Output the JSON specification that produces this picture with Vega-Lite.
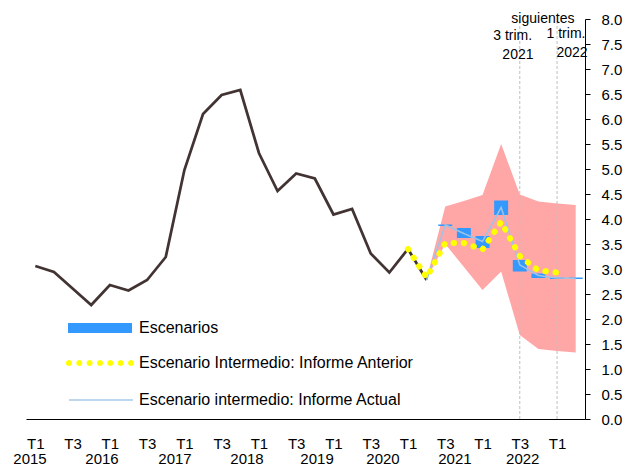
{
  "$schema": "https://vega.github.io/schema/vega-lite/v6.json",
  "width": 559,
  "height": 400,
  "autosize": {"type": "none"},
  "padding": {"left": 26, "top": 19, "right": 40, "bottom": 45},
  "background": "white",
  "config": {
    "view": {"stroke": null},
    "font": "Liberation Sans",
    "axis": {"labelFont": "Liberation Sans", "labelColor": "#000000", "grid": false, "title": null},
    "legend": {"labelFont": "Liberation Sans", "labelFontSize": 16, "labelColor": "#000000", "padding": 0, "labelOffset": 7, "labelLimit": 500}
  },
  "datasets": {
    "historico": [
      {"t": 2015, "v": 3.06}, {"t": 2015.25, "v": 2.94}, {"t": 2015.5, "v": 2.61}, {"t": 2015.75, "v": 2.28},
      {"t": 2016, "v": 2.68}, {"t": 2016.25, "v": 2.57}, {"t": 2016.5, "v": 2.78}, {"t": 2016.75, "v": 3.24},
      {"t": 2017, "v": 4.98}, {"t": 2017.25, "v": 6.10}, {"t": 2017.5, "v": 6.48}, {"t": 2017.75, "v": 6.58},
      {"t": 2018, "v": 5.32}, {"t": 2018.25, "v": 4.56}, {"t": 2018.5, "v": 4.91}, {"t": 2018.75, "v": 4.81},
      {"t": 2019, "v": 4.09}, {"t": 2019.25, "v": 4.20}, {"t": 2019.5, "v": 3.31}, {"t": 2019.75, "v": 2.93},
      {"t": 2020, "v": 3.40}, {"t": 2020.25, "v": 2.78}
    ],
    "fan": [
      {"t": 2020.25, "lo": 2.80, "hi": 2.80},
      {"t": 2020.5, "lo": 3.50, "hi": 4.25},
      {"t": 2020.75, "lo": 3.04, "hi": 4.36},
      {"t": 2021, "lo": 2.58, "hi": 4.48},
      {"t": 2021.25, "lo": 2.95, "hi": 5.50},
      {"t": 2021.5, "lo": 1.68, "hi": 4.49},
      {"t": 2021.75, "lo": 1.40, "hi": 4.35},
      {"t": 2022, "lo": 1.36, "hi": 4.31},
      {"t": 2022.25, "lo": 1.33, "hi": 4.28}
    ],
    "escenarios": [
      {"t": 2020.5, "lo": 3.86, "hi": 3.89},
      {"t": 2020.75, "lo": 3.62, "hi": 3.82},
      {"t": 2021, "lo": 3.42, "hi": 3.66},
      {"t": 2021.25, "lo": 4.08, "hi": 4.37},
      {"t": 2021.5, "lo": 2.95, "hi": 3.18},
      {"t": 2021.75, "lo": 2.82, "hi": 2.91},
      {"t": 2022, "lo": 2.80, "hi": 2.83},
      {"t": 2022.25, "lo": 2.80, "hi": 2.83}
    ],
    "actual": [
      {"t": 2020.25, "v": 2.78}, {"t": 2020.5, "v": 3.88}, {"t": 2020.75, "v": 3.71}, {"t": 2021, "v": 3.55},
      {"t": 2021.25, "v": 4.23}, {"t": 2021.5, "v": 3.08}, {"t": 2021.75, "v": 2.87}, {"t": 2022, "v": 2.82},
      {"t": 2022.25, "v": 2.81}
    ],
    "anterior": [
      {"t": 2020, "v": 3.40}, {"t": 2020.25, "v": 2.83}, {"t": 2020.5, "v": 3.52}, {"t": 2020.75, "v": 3.52},
      {"t": 2021, "v": 3.39}, {"t": 2021.25, "v": 3.94}, {"t": 2021.5, "v": 3.26}, {"t": 2021.75, "v": 2.97},
      {"t": 2022, "v": 2.93}
    ],
    "cortes": [{"t": 2021.5}, {"t": 2022}],
    "notas": [
      {"t": 2021.81, "v": 8.0, "texto": "siguientes"},
      {"t": 2021.405, "v": 7.66, "texto": "3 trim."},
      {"t": 2021.475, "v": 7.28, "texto": "2021"},
      {"t": 2022.12, "v": 7.70, "texto": "1 trim."},
      {"t": 2022.2, "v": 7.32, "texto": "2022"}
    ],
    "anios": [
      {"t": 2014.929, "v": -0.79, "texto": "2015"},
      {"t": 2015.895, "v": -0.79, "texto": "2016"},
      {"t": 2016.874, "v": -0.79, "texto": "2017"},
      {"t": 2017.84, "v": -0.79, "texto": "2018"},
      {"t": 2018.78, "v": -0.79, "texto": "2019"},
      {"t": 2019.665, "v": -0.79, "texto": "2020"},
      {"t": 2020.63, "v": -0.79, "texto": "2021"},
      {"t": 2021.54, "v": -0.79, "texto": "2022"}
    ]
  },
  "layer": [
    {
      "data": {"name": "fan"},
      "mark": {"type": "area", "color": "#FFA6A6", "opacity": 1},
      "encoding": {
        "x": {
          "field": "t", "type": "quantitative", "title": null,
          "scale": {"domain": [2014.875, 2022.375], "nice": false, "zero": false, "padding": 0},
          "axis": {"orient": "bottom", "title": null, "grid": false, "ticks": false, "tickSize": 0, "domain": true, "domainColor": "#000000", "domainWidth": 1, "values": [2015, 2015.5, 2016, 2016.5, 2017, 2017.5, 2018, 2018.5, 2019, 2019.5, 2020, 2020.5, 2021, 2021.5, 2022], "labelExpr": "datum.value % 1 == 0 ? 'T1' : 'T3'", "labelPadding": 17, "labelFontSize": 15, "labelFlush": false, "labelOverlap": false, "labelBound": false}
        },
        "y": {
          "field": "hi", "type": "quantitative", "title": null,
          "scale": {"domain": [0, 8], "nice": false, "zero": true, "padding": 0},
          "axis": {"orient": "right", "title": null, "grid": false, "values": [0, 0.5, 1, 1.5, 2, 2.5, 3, 3.5, 4, 4.5, 5, 5.5, 6, 6.5, 7, 7.5, 8], "format": ".1f", "domain": true, "domainColor": "#000000", "ticks": true, "tickColor": "#000000", "tickSize": 5, "labelPadding": 11, "labelFontSize": 15, "labelFlush": false, "labelOverlap": false, "labelBound": false}
        },
        "y2": {"field": "lo"}
      }
    },
    {
      "data": {"name": "cortes"},
      "mark": {"type": "rule", "color": "#BFBFBF", "strokeDash": [3, 2], "strokeWidth": 1},
      "encoding": {
        "x": {
          "field": "t", "type": "quantitative", "title": null,
          "axis": {"orient": "bottom", "title": null, "grid": false, "ticks": false, "tickSize": 0, "domain": true, "domainColor": "#000000", "domainWidth": 1, "values": [2015, 2015.5, 2016, 2016.5, 2017, 2017.5, 2018, 2018.5, 2019, 2019.5, 2020, 2020.5, 2021, 2021.5, 2022], "labelExpr": "datum.value % 1 == 0 ? 'T1' : 'T3'", "labelPadding": 17, "labelFontSize": 15, "labelFlush": false, "labelOverlap": false, "labelBound": false}
        },
        "y": {
          "datum": 0, "type": "quantitative", "title": null,
          "axis": {"orient": "right", "title": null, "grid": false, "values": [0, 0.5, 1, 1.5, 2, 2.5, 3, 3.5, 4, 4.5, 5, 5.5, 6, 6.5, 7, 7.5, 8], "format": ".1f", "domain": true, "domainColor": "#000000", "ticks": true, "tickColor": "#000000", "tickSize": 5, "labelPadding": 11, "labelFontSize": 15, "labelFlush": false, "labelOverlap": false, "labelBound": false}
        },
        "y2": {"datum": 8}
      }
    },
    {
      "data": {"name": "historico"},
      "mark": {"type": "line", "color": "#433434", "strokeWidth": 2.75},
      "encoding": {
        "x": {
          "field": "t", "type": "quantitative", "title": null,
          "axis": {"orient": "bottom", "title": null, "grid": false, "ticks": false, "tickSize": 0, "domain": true, "domainColor": "#000000", "domainWidth": 1, "values": [2015, 2015.5, 2016, 2016.5, 2017, 2017.5, 2018, 2018.5, 2019, 2019.5, 2020, 2020.5, 2021, 2021.5, 2022], "labelExpr": "datum.value % 1 == 0 ? 'T1' : 'T3'", "labelPadding": 17, "labelFontSize": 15, "labelFlush": false, "labelOverlap": false, "labelBound": false}
        },
        "y": {
          "field": "v", "type": "quantitative", "title": null,
          "axis": {"orient": "right", "title": null, "grid": false, "values": [0, 0.5, 1, 1.5, 2, 2.5, 3, 3.5, 4, 4.5, 5, 5.5, 6, 6.5, 7, 7.5, 8], "format": ".1f", "domain": true, "domainColor": "#000000", "ticks": true, "tickColor": "#000000", "tickSize": 5, "labelPadding": 11, "labelFontSize": 15, "labelFlush": false, "labelOverlap": false, "labelBound": false}
        }
      }
    },
    {
      "data": {"name": "escenarios"},
      "mark": {"type": "bar", "size": 14},
      "encoding": {
        "x": {
          "field": "t", "type": "quantitative", "title": null,
          "axis": {"orient": "bottom", "title": null, "grid": false, "ticks": false, "tickSize": 0, "domain": true, "domainColor": "#000000", "domainWidth": 1, "values": [2015, 2015.5, 2016, 2016.5, 2017, 2017.5, 2018, 2018.5, 2019, 2019.5, 2020, 2020.5, 2021, 2021.5, 2022], "labelExpr": "datum.value % 1 == 0 ? 'T1' : 'T3'", "labelPadding": 17, "labelFontSize": 15, "labelFlush": false, "labelOverlap": false, "labelBound": false}
        },
        "y": {
          "field": "hi", "type": "quantitative", "title": null,
          "axis": {"orient": "right", "title": null, "grid": false, "values": [0, 0.5, 1, 1.5, 2, 2.5, 3, 3.5, 4, 4.5, 5, 5.5, 6, 6.5, 7, 7.5, 8], "format": ".1f", "domain": true, "domainColor": "#000000", "ticks": true, "tickColor": "#000000", "tickSize": 5, "labelPadding": 11, "labelFontSize": 15, "labelFlush": false, "labelOverlap": false, "labelBound": false}
        },
        "y2": {"field": "lo"},
        "fill": {
          "datum": "Escenarios", "type": "nominal",
          "scale": {"range": ["#3399FF"]},
          "legend": {"title": null, "orient": "none", "legendX": 42, "legendY": 277, "symbolType": "M-1,-0.16H1V0.16H-1Z", "symbolSize": 4096, "symbolStrokeWidth": 0, "symbolOpacity": 1}
        }
      }
    },
    {
      "data": {"name": "actual"},
      "mark": {"type": "line", "color": "#9DC3E6", "strokeWidth": 1.5},
      "encoding": {
        "x": {
          "field": "t", "type": "quantitative", "title": null,
          "axis": {"orient": "bottom", "title": null, "grid": false, "ticks": false, "tickSize": 0, "domain": true, "domainColor": "#000000", "domainWidth": 1, "values": [2015, 2015.5, 2016, 2016.5, 2017, 2017.5, 2018, 2018.5, 2019, 2019.5, 2020, 2020.5, 2021, 2021.5, 2022], "labelExpr": "datum.value % 1 == 0 ? 'T1' : 'T3'", "labelPadding": 17, "labelFontSize": 15, "labelFlush": false, "labelOverlap": false, "labelBound": false}
        },
        "y": {
          "field": "v", "type": "quantitative", "title": null,
          "axis": {"orient": "right", "title": null, "grid": false, "values": [0, 0.5, 1, 1.5, 2, 2.5, 3, 3.5, 4, 4.5, 5, 5.5, 6, 6.5, 7, 7.5, 8], "format": ".1f", "domain": true, "domainColor": "#000000", "ticks": true, "tickColor": "#000000", "tickSize": 5, "labelPadding": 11, "labelFontSize": 15, "labelFlush": false, "labelOverlap": false, "labelBound": false}
        },
        "strokeDash": {
          "datum": "Escenario intermedio: Informe Actual", "type": "nominal",
          "scale": {"range": [[10, 0]]},
          "legend": {"title": null, "orient": "none", "legendX": 42, "legendY": 348, "symbolType": "stroke", "symbolSize": 4096, "symbolStrokeColor": "#BDD7EE", "symbolStrokeWidth": 2, "labelOffset": 5}
        }
      }
    },
    {
      "data": {"name": "anterior"},
      "mark": {"type": "line", "color": "#FFFF00", "strokeWidth": 6, "strokeDash": [0.5, 9.7], "strokeCap": "round"},
      "encoding": {
        "x": {
          "field": "t", "type": "quantitative", "title": null,
          "axis": {"orient": "bottom", "title": null, "grid": false, "ticks": false, "tickSize": 0, "domain": true, "domainColor": "#000000", "domainWidth": 1, "values": [2015, 2015.5, 2016, 2016.5, 2017, 2017.5, 2018, 2018.5, 2019, 2019.5, 2020, 2020.5, 2021, 2021.5, 2022], "labelExpr": "datum.value % 1 == 0 ? 'T1' : 'T3'", "labelPadding": 17, "labelFontSize": 15, "labelFlush": false, "labelOverlap": false, "labelBound": false}
        },
        "y": {
          "field": "v", "type": "quantitative", "title": null,
          "axis": {"orient": "right", "title": null, "grid": false, "values": [0, 0.5, 1, 1.5, 2, 2.5, 3, 3.5, 4, 4.5, 5, 5.5, 6, 6.5, 7, 7.5, 8], "format": ".1f", "domain": true, "domainColor": "#000000", "ticks": true, "tickColor": "#000000", "tickSize": 5, "labelPadding": 11, "labelFontSize": 15, "labelFlush": false, "labelOverlap": false, "labelBound": false}
        }
      }
    },
    {
      "data": {"name": "anterior"},
      "mark": {"type": "point", "filled": true, "opacity": 0, "size": 30},
      "encoding": {
        "x": {
          "field": "t", "type": "quantitative", "title": null,
          "axis": {"orient": "bottom", "title": null, "grid": false, "ticks": false, "tickSize": 0, "domain": true, "domainColor": "#000000", "domainWidth": 1, "values": [2015, 2015.5, 2016, 2016.5, 2017, 2017.5, 2018, 2018.5, 2019, 2019.5, 2020, 2020.5, 2021, 2021.5, 2022], "labelExpr": "datum.value % 1 == 0 ? 'T1' : 'T3'", "labelPadding": 17, "labelFontSize": 15, "labelFlush": false, "labelOverlap": false, "labelBound": false}
        },
        "y": {
          "field": "v", "type": "quantitative", "title": null,
          "axis": {"orient": "right", "title": null, "grid": false, "values": [0, 0.5, 1, 1.5, 2, 2.5, 3, 3.5, 4, 4.5, 5, 5.5, 6, 6.5, 7, 7.5, 8], "format": ".1f", "domain": true, "domainColor": "#000000", "ticks": true, "tickColor": "#000000", "tickSize": 5, "labelPadding": 11, "labelFontSize": 15, "labelFlush": false, "labelOverlap": false, "labelBound": false}
        },
        "color": {
          "datum": "Escenario Intermedio: Informe Anterior", "type": "nominal",
          "scale": {"range": ["#FFFF00"]},
          "legend": {
            "title": null, "orient": "none", "legendX": 42, "legendY": 312,
            "symbolType": "M-1.064,0a0.094,0.094 0 1,0 0.188,0a0.094,0.094 0 1,0 -0.188,0ZM-0.7407,0a0.094,0.094 0 1,0 0.188,0a0.094,0.094 0 1,0 -0.188,0ZM-0.4173,0a0.094,0.094 0 1,0 0.188,0a0.094,0.094 0 1,0 -0.188,0ZM-0.094,0a0.094,0.094 0 1,0 0.188,0a0.094,0.094 0 1,0 -0.188,0ZM0.2293,0a0.094,0.094 0 1,0 0.188,0a0.094,0.094 0 1,0 -0.188,0ZM0.5527,0a0.094,0.094 0 1,0 0.188,0a0.094,0.094 0 1,0 -0.188,0ZM0.876,0a0.094,0.094 0 1,0 0.188,0a0.094,0.094 0 1,0 -0.188,0Z",
            "symbolSize": 4096, "symbolStrokeWidth": 0, "symbolOpacity": 1, "symbolFillColor": "#FFFF00"
          }
        }
      }
    },
    {
      "data": {"name": "notas"},
      "mark": {"type": "text", "fontSize": 14, "font": "Liberation Sans", "color": "#000000", "baseline": "middle", "align": "center"},
      "encoding": {
        "x": {
          "field": "t", "type": "quantitative", "title": null,
          "axis": {"orient": "bottom", "title": null, "grid": false, "ticks": false, "tickSize": 0, "domain": true, "domainColor": "#000000", "domainWidth": 1, "values": [2015, 2015.5, 2016, 2016.5, 2017, 2017.5, 2018, 2018.5, 2019, 2019.5, 2020, 2020.5, 2021, 2021.5, 2022], "labelExpr": "datum.value % 1 == 0 ? 'T1' : 'T3'", "labelPadding": 17, "labelFontSize": 15, "labelFlush": false, "labelOverlap": false, "labelBound": false}
        },
        "y": {
          "field": "v", "type": "quantitative", "title": null,
          "axis": {"orient": "right", "title": null, "grid": false, "values": [0, 0.5, 1, 1.5, 2, 2.5, 3, 3.5, 4, 4.5, 5, 5.5, 6, 6.5, 7, 7.5, 8], "format": ".1f", "domain": true, "domainColor": "#000000", "ticks": true, "tickColor": "#000000", "tickSize": 5, "labelPadding": 11, "labelFontSize": 15, "labelFlush": false, "labelOverlap": false, "labelBound": false}
        },
        "text": {"field": "texto"}
      }
    },
    {
      "data": {"name": "anios"},
      "mark": {"type": "text", "fontSize": 15, "font": "Liberation Sans", "color": "#000000", "baseline": "middle", "align": "center", "clip": false},
      "encoding": {
        "x": {
          "field": "t", "type": "quantitative", "title": null,
          "axis": {"orient": "bottom", "title": null, "grid": false, "ticks": false, "tickSize": 0, "domain": true, "domainColor": "#000000", "domainWidth": 1, "values": [2015, 2015.5, 2016, 2016.5, 2017, 2017.5, 2018, 2018.5, 2019, 2019.5, 2020, 2020.5, 2021, 2021.5, 2022], "labelExpr": "datum.value % 1 == 0 ? 'T1' : 'T3'", "labelPadding": 17, "labelFontSize": 15, "labelFlush": false, "labelOverlap": false, "labelBound": false}
        },
        "y": {
          "field": "v", "type": "quantitative", "title": null,
          "axis": {"orient": "right", "title": null, "grid": false, "values": [0, 0.5, 1, 1.5, 2, 2.5, 3, 3.5, 4, 4.5, 5, 5.5, 6, 6.5, 7, 7.5, 8], "format": ".1f", "domain": true, "domainColor": "#000000", "ticks": true, "tickColor": "#000000", "tickSize": 5, "labelPadding": 11, "labelFontSize": 15, "labelFlush": false, "labelOverlap": false, "labelBound": false}
        },
        "text": {"field": "texto"}
      }
    }
  ]
}
